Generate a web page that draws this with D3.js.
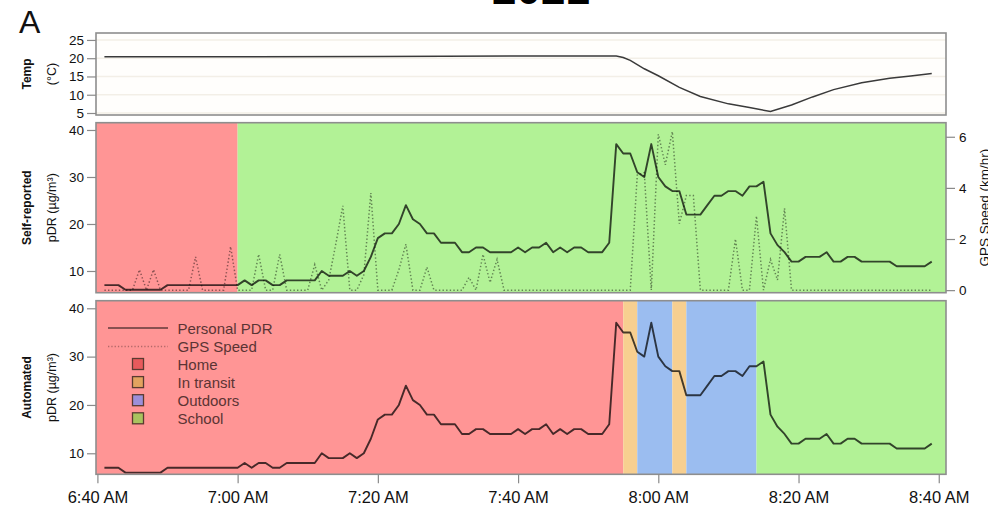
<!DOCTYPE html>
<html>
<head>
<meta charset="utf-8">
<script src="https://cdn.jsdelivr.net/npm/d3@7"></script>
<style>
  body { margin: 0; background: #fff; }
  svg { display: block; font-family: "Liberation Sans", Arial, sans-serif; }
</style>
</head>
<body>
<svg id="chart" width="988" height="509"></svg>
<script>
// ---- data -----------------------------------------------------------------
// Personal PDR (µg/m³), one sample per minute starting at 06:41
const sampleStart = "06:41";
const pdr = [
  7, 7, 7, 6, 6, 6, 6, 6, 6, 7,
  7, 7, 7, 7, 7, 7, 7, 7, 7, 7,
  8, 7, 8, 8, 7, 7, 8, 8, 8, 8,
  8, 10, 9, 9, 9, 10, 9, 10, 13, 17,
  18, 18, 20, 24, 21, 20, 18, 18, 16, 16,
  16, 14, 14, 15, 15, 14, 14, 14, 14, 15,
  14, 15, 15, 16, 14, 15, 14, 15, 15, 14,
  14, 14, 16, 37, 35, 35, 31, 30, 37, 30,
  28, 27, 27, 22, 22, 22, 24, 26, 26, 27,
  27, 26, 28, 28, 29, 18, 15.5, 14, 12, 12,
  13, 13, 13, 14, 12, 12, 13, 13, 12, 12,
  12, 12, 12, 11, 11, 11, 11, 11, 12
];
// GPS speed (km/hr), same minute grid
const gpsSpeed = [
  0, 0, 0, 0, 0, 0.8, 0, 0.8, 0, 0,
  0, 0, 0, 1.3, 0, 0, 0, 0, 1.7, 0,
  0, 0, 1.4, 0, 0, 1.4, 0, 0, 0, 0,
  1.0, 0, 0.4, 1.8, 3.3, 0, 0, 0.6, 3.8, 0,
  0, 0, 0.8, 1.8, 0, 0, 0.9, 0, 0, 0,
  0, 0, 0.5, 0, 1.4, 0.3, 1.2, 0, 0, 0,
  0, 0, 0, 0, 0, 0, 0, 0, 0, 0,
  0, 0, 0, 0, 0, 0, 4.5, 4.6, 0, 6.1,
  4.9, 6.2, 2.6, 3.7, 3.7, 0, 0, 0, 0, 0,
  2.0, 0, 0, 2.9, 0, 1.2, 0.4, 3.2, 0, 0,
  0, 0, 0, 0, 0, 0, 0, 0, 0, 0,
  0, 0, 0, 0, 0, 0, 0, 0, 0
];
// Temperature (°C)
const tempTimes  = ["06:41", "07:00", "07:20", "07:40", "07:54", "07:55", "07:56", "07:58",
                    "08:00", "08:03", "08:06", "08:10", "08:13", "08:16", "08:19", "08:22",
                    "08:25", "08:29", "08:33", "08:36", "08:39"];
const tempValues = [20.4, 20.4, 20.5, 20.6, 20.6, 20.2, 19.4, 17.1,
                    15.2, 12.0, 9.5, 7.5, 6.5, 5.4, 7.2, 9.4,
                    11.4, 13.3, 14.5, 15.1, 15.8];

// Microenvironment segments (category changes at the break times)
const selfCategories = ["Home", "School"];
const selfBreaks     = ["07:00"];
const autoCategories = ["Home", "In transit", "Outdoors", "In transit", "Outdoors", "School"];
const autoBreaks     = ["07:55", "07:57", "08:02", "08:04", "08:14"];

const legendCategories = ["Home", "In transit", "Outdoors", "School"];
const xTickLabels = ["6:40 AM", "7:00 AM", "7:20 AM", "7:40 AM", "8:00 AM", "8:20 AM", "8:40 AM"];
const tempTicks = [5, 10, 15, 20, 25];
const pdrTicks  = [10, 20, 30, 40];
const gpsTicks  = [0, 2, 4, 6];

// ---- styling ----------------------------------------------------------------
const regionColor = {
  "Home": "#ff9595", "In transit": "#f7cf90", "Outdoors": "#9bbdf0", "School": "#b2f296"
};
const swatchColor = {
  "Home": "#e85a5c", "In transit": "#e3a35f", "Outdoors": "#9c8fd9", "School": "#a9c35f"
};

// ---- scales -----------------------------------------------------------------
const hm = d3.timeParse("%H:%M");
const hmsParse = d3.timeParse("%H:%M:%S");
const tickParse = d3.timeParse("%I:%M %p");
const t0 = hm(sampleStart);
const sampleTimes = pdr.map((_, i) => d3.timeMinute.offset(t0, i));

const svg = d3.select("#chart");
const X0 = 96, X1 = 946;
const x = d3.scaleTime()
  .domain([hmsParse("06:39:48"), hmsParse("08:41:02")])
  .range([X0, X1]);

const panels = {
  temp: { top: 33,    bottom: 115 },
  self: { top: 122.7, bottom: 292.7 },
  auto: { top: 300.7, bottom: 474.3 }
};
const yTemp = d3.scaleLinear().domain([4.45, 26.9]).range([panels.temp.bottom, panels.temp.top]);
const ySelf = d3.scaleLinear().domain([5.38, 41.55]).range([panels.self.bottom, panels.self.top]);
const yGps  = d3.scaleLinear().domain([-0.1, 6.55]).range([panels.self.bottom, panels.self.top]);
const yAuto = d3.scaleLinear().domain([5.65, 41.57]).range([panels.auto.bottom, panels.auto.top]);

// title partly above the frame
svg.append("text")
  .attr("x", 541).attr("y", 4)
  .attr("text-anchor", "middle")
  .attr("font-size", 44).attr("font-weight", "bold")
  .attr("fill", "#000")
  .text("2021");

svg.append("text")
  .attr("x", 19).attr("y", 33)
  .attr("font-size", 32)
  .attr("fill", "#111")
  .text("A");

// ---- helpers ----------------------------------------------------------------
function styleAxis(g) {
  g.select(".domain").remove();
  g.selectAll(".tick line").attr("stroke", "#8a8a8a").attr("stroke-width", 1.2);
  g.selectAll(".tick text").attr("fill", "#111").attr("font-size", 13.5)
    .attr("font-family", "\"Liberation Sans\", Arial, sans-serif");
}

function drawSegments(panel, breaks, cats) {
  const edges = [x.domain()[0], ...breaks.map(hm), x.domain()[1]];
  svg.append("g").selectAll("rect")
    .data(cats)
    .join("rect")
    .attr("x", (d, i) => x(edges[i]))
    .attr("width", (d, i) => x(edges[i + 1]) - x(edges[i]))
    .attr("y", panel.top)
    .attr("height", panel.bottom - panel.top)
    .attr("fill", d => regionColor[d]);
}

function frame(panel) {
  svg.append("rect")
    .attr("x", X0).attr("y", panel.top)
    .attr("width", X1 - X0).attr("height", panel.bottom - panel.top)
    .attr("fill", "none")
    .attr("stroke", "#8e8e8e").attr("stroke-width", 1.6);
}

function yTitle(cx, cy, bold, normal) {
  svg.append("text")
    .attr("transform", `translate(${cx},${cy}) rotate(-90)`)
    .attr("text-anchor", "middle")
    .attr("font-size", 12).attr("font-weight", "bold").attr("fill", "#111")
    .text(bold);
  svg.append("text")
    .attr("transform", `translate(${cx + 25},${cy}) rotate(-90)`)
    .attr("text-anchor", "middle")
    .attr("font-size", 12.5).attr("fill", "#111")
    .text(normal);
}

const pdrLine = y => d3.line()
  .x((d, i) => x(sampleTimes[i]))
  .y(d => y(d));

// ---- temperature panel -------------------------------------------------------
svg.append("rect")
  .attr("x", X0).attr("y", panels.temp.top)
  .attr("width", X1 - X0).attr("height", panels.temp.bottom - panels.temp.top)
  .attr("fill", "#fffefc");
svg.append("g").selectAll("line")
  .data(tempTicks)
  .join("line")
  .attr("x1", X0).attr("x2", X1)
  .attr("y1", d => yTemp(d)).attr("y2", d => yTemp(d))
  .attr("stroke", "#f3efe7").attr("stroke-width", 1.5);
svg.append("path")
  .datum(tempValues)
  .attr("fill", "none")
  .attr("stroke", "#3a3a3a").attr("stroke-width", 1.5)
  .attr("d", d3.line().x((d, i) => x(hm(tempTimes[i]))).y(d => yTemp(d)));
frame(panels.temp);
svg.append("g").attr("transform", `translate(${X0},0)`)
  .call(d3.axisLeft(yTemp).tickValues(tempTicks).tickSize(9).tickPadding(3))
  .call(styleAxis);
yTitle(31, (panels.temp.top + panels.temp.bottom) / 2, "Temp", "(°C)");

// ---- self-reported panel -------------------------------------------------------
drawSegments(panels.self, selfBreaks, selfCategories);
svg.append("path")
  .datum(gpsSpeed)
  .attr("fill", "none")
  .attr("stroke", "#000").attr("stroke-opacity", 0.45)
  .attr("stroke-width", 1.5).attr("stroke-dasharray", "1.4,2.2")
  .attr("d", d3.line().x((d, i) => x(sampleTimes[i])).y(d => yGps(d)));
svg.append("path")
  .datum(pdr)
  .attr("fill", "none")
  .attr("stroke", "#000").attr("stroke-opacity", 0.72)
  .attr("stroke-width", 1.9).attr("stroke-linejoin", "round")
  .attr("d", pdrLine(ySelf));
frame(panels.self);
svg.append("g").attr("transform", `translate(${X0},0)`)
  .call(d3.axisLeft(ySelf).tickValues(pdrTicks).tickSize(9).tickPadding(3))
  .call(styleAxis);
svg.append("g").attr("transform", `translate(${X1},0)`)
  .call(d3.axisRight(yGps).tickValues(gpsTicks).tickFormat(d3.format("d")).tickSize(9).tickPadding(4))
  .call(styleAxis);
yTitle(31, (panels.self.top + panels.self.bottom) / 2, "Self-reported", "pDR (µg/m³)");
svg.append("text")
  .attr("transform", `translate(988.5,${(panels.self.top + panels.self.bottom) / 2}) rotate(-90)`)
  .attr("text-anchor", "middle")
  .attr("font-size", 13.5).attr("fill", "#111")
  .text("GPS Speed (km/hr)");

// ---- automated panel ---------------------------------------------------------
drawSegments(panels.auto, autoBreaks, autoCategories);
svg.append("path")
  .datum(pdr)
  .attr("fill", "none")
  .attr("stroke", "#000").attr("stroke-opacity", 0.72)
  .attr("stroke-width", 1.9).attr("stroke-linejoin", "round")
  .attr("d", pdrLine(yAuto));
frame(panels.auto);
svg.append("g").attr("transform", `translate(${X0},0)`)
  .call(d3.axisLeft(yAuto).tickValues(pdrTicks).tickSize(9).tickPadding(3))
  .call(styleAxis);
yTitle(31, (panels.auto.top + panels.auto.bottom) / 2, "Automated", "pDR (µg/m³)");

// time axis under the bottom panel
const xAxis = svg.append("g").attr("transform", `translate(0,${panels.auto.bottom})`)
  .call(d3.axisBottom(x)
    .tickValues(xTickLabels.map(tickParse))
    .tickFormat(d3.timeFormat("%-I:%M %p"))
    .tickSize(9).tickPadding(8))
  .call(styleAxis);
xAxis.selectAll(".tick text").attr("font-size", 16.5);

// ---- legend ------------------------------------------------------------------
const legend = svg.append("g").attr("transform", "translate(108,0)");
const inkText = "#5b3434";
legend.append("line")
  .attr("x1", 0).attr("x2", 60).attr("y1", 328).attr("y2", 328)
  .attr("stroke", "#000").attr("stroke-opacity", 0.62).attr("stroke-width", 1.6);
legend.append("line")
  .attr("x1", 0).attr("x2", 60).attr("y1", 346.5).attr("y2", 346.5)
  .attr("stroke", "#000").attr("stroke-opacity", 0.3).attr("stroke-width", 1.3)
  .attr("stroke-dasharray", "1.3,2");
legend.append("text").attr("x", 69.5).attr("y", 333.5)
  .attr("font-size", 15).attr("fill", inkText).text("Personal PDR");
legend.append("text").attr("x", 69.5).attr("y", 352)
  .attr("font-size", 15).attr("fill", inkText).text("GPS Speed");
legendCategories.forEach((c, i) => {
  const cy = 364 + i * 18.1;
  legend.append("rect")
    .attr("x", 24.5).attr("y", cy - 5.5).attr("width", 11).attr("height", 11)
    .attr("fill", swatchColor[c])
    .attr("stroke", "#5a3a30").attr("stroke-width", 1.3);
  legend.append("text").attr("x", 69.5).attr("y", cy + 5.5)
    .attr("font-size", 15).attr("fill", inkText).text(c);
});
</script>
</body>
</html>
